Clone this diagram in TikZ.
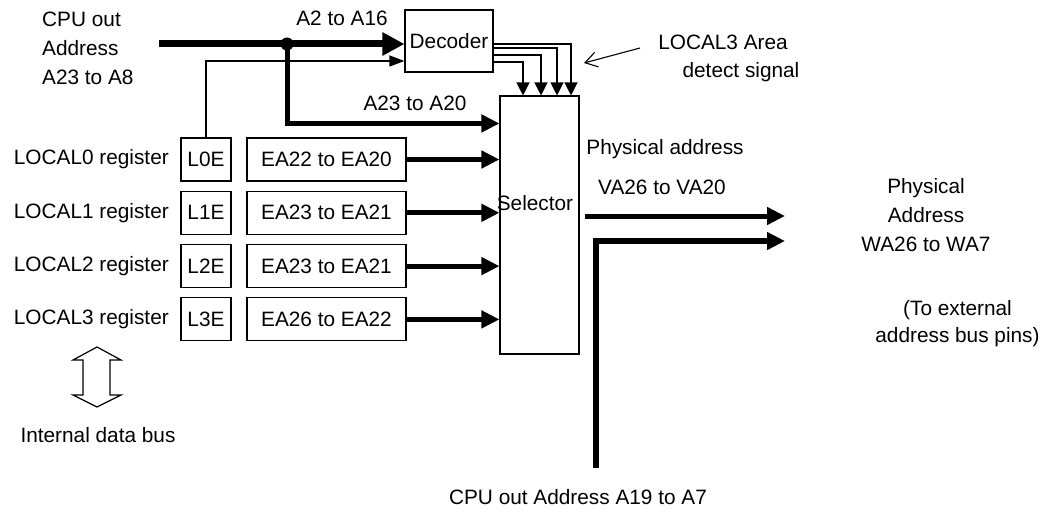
\documentclass[tikz,border=0pt]{standalone}
\usepackage{fontspec}
\setmainfont{Liberation Sans}
\usepackage{tikz}
\usetikzlibrary{positioning, arrows.meta, calc}

\tikzset{
  box/.style={draw, line width=1.1pt, inner sep=0pt},
  txt/.style={inner sep=0pt, align=center},
  bus/.style={line width=5pt, -{Triangle[length=18pt,width=17pt]}},
  sig/.style={line width=1.2pt, -{Triangle[length=13pt,width=13pt]}},
}

\begin{document}
\begin{tikzpicture}[x=1pt, y=-1pt, font=\fontsize{20.8}{29}\selectfont]
  \useasboundingbox (0,0) rectangle (1044,516);
  % Decoder and selector
  \node[box, minimum width=88pt, minimum height=62pt] (dec) at (449,41) {Decoder};
  \node[box, minimum width=79pt, minimum height=258pt] (sel) at (539.5,225) {};
  \node[txt] (seltext) at (535,203) {Selector};
  % CPU address bus
  \node[txt, align=left, anchor=west] (cpuin) at (42,48) {CPU out\\Address\\A23 to A8};
  \coordinate (busin) at (159,44);
  \node[circle, fill, inner sep=0pt, minimum size=13pt] (jn) at (287,44) {};
  \draw[bus, line width=7pt, -{Triangle[length=22pt,width=22pt]}] (busin) -- (busin -| dec.west);
  \draw[bus] (jn.center) |- ([yshift=-28pt]sel.north west);
  \node[txt] (a2lbl) at (342,18) {A2 to A16};
  \node[txt] (a23lbl) at (415,103) {A23 to A20};
  % Registers
  \def\regdata{
    LOCAL0 register/L0E/EA22 to EA20,
    LOCAL1 register/L1E/EA23 to EA21,
    LOCAL2 register/L2E/EA23 to EA21,
    LOCAL3 register/L3E/EA26 to EA22%
  }
  \foreach \reg/\en/\ea [count=\i from 0] in \regdata {
    \node[txt, anchor=east] (reg\i) at (169, 159.5+53.3*\i) {\reg};
    \node[box, minimum width=50pt, minimum height=43pt] (en\i) at (206, 159.5+53.3*\i) {\en};
    \node[box, minimum width=159pt, minimum height=43pt] (ea\i) at (326.5, 159.5+53.3*\i) {\ea};
    \draw[bus] (ea\i.east) -- (ea\i.east -| sel.west);
  }
  \draw[sig, -{Triangle[length=15pt,width=11pt]}] (en0.north) |- ([yshift=-20pt]dec.west);
  % Decoder outputs
  \foreach \dy/\dx in {-3/31.5, -7/17.5, -14/1.5, -21/-16.5}
    \draw[sig] ([yshift=\dy pt]dec.east) -| ([xshift=\dx pt]sel.north);
  % LOCAL3 area detect signal
  \node[txt] (l3a) at (723,42) {LOCAL3 Area};
  \node[txt] (l3d) at (741,72) {detect signal};
  \coordinate (l3tip) at (584,63);
  \draw[line width=1.1pt, -{Straight Barb[length=12pt,width=15pt]}] ([xshift=-18pt,yshift=-6pt]l3a.west) -- (l3tip);
  % Physical address out
  \node[txt] (paddr) at (665,149) {Physical address};
  \node[txt] (va) at (662,187) {VA26 to VA20};
  \coordinate (vaout) at (585,216);
  \coordinate (vaend) at (785,216);
  \draw[bus] (vaout) -- (vaend);
  \coordinate (lowin) at (596,468);
  \coordinate (waend) at (785,241);
  \draw[bus, line width=6pt] (lowin) |- (waend);
  \node[txt] (phys) at (926,215) {Physical\\Address\\WA26 to WA7};
  \node[txt, font=\fontsize{20.8}{27}\selectfont] (ext) at (957.5,323.5) {(To external\\address bus pins)};
  \node[txt] (lowlbl) at (578,497) {CPU out Address A19 to A7};
  % Internal data bus
  \draw[line width=1.2pt] (97,347) -- (121,360) -- (110,360) -- (110,395) -- (121,395) -- (97,407)
    -- (73,395) -- (83,395) -- (83,360) -- (73,360) -- cycle;
  \node[txt] (idb) at (98,435) {Internal data bus};
\end{tikzpicture}
\end{document}
